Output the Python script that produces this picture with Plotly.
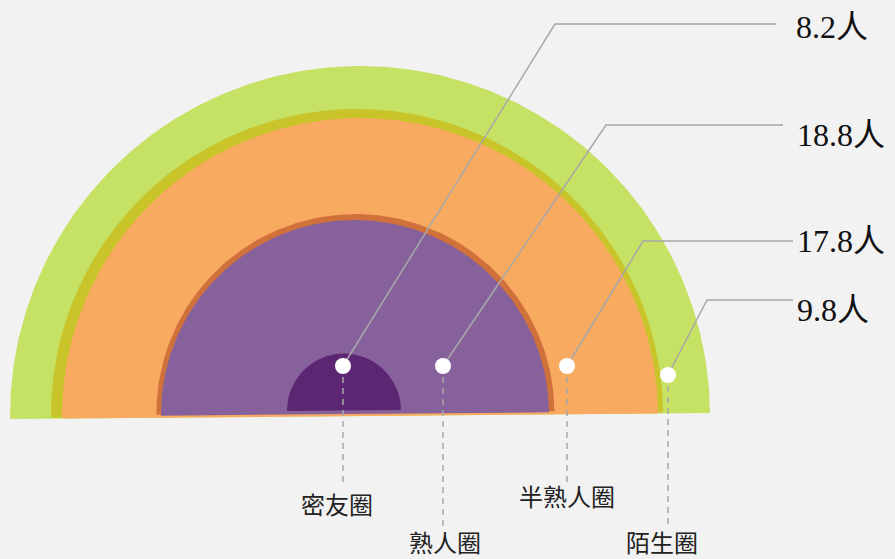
import numpy as np
import plotly.graph_objects as go

# ---- data ----
categories = ["密友圈", "熟人圈", "半熟人圈", "陌生圈"]
values = [8.2, 18.8, 17.8, 9.8]
value_unit = "人"

# ---- layout / style (pixel geometry of the drawing) ----
W, H = 895, 559
BG = "#F2F2F2"
TILT = 6.0 / 700.0  # slight rotation of the base line

# layers: (cx, cy, r, color) drawn back to front
layers = [
    (360, 416, 350, "#C5E264"),
    (357, 415, 306, "#C8C42A"),
    (360, 416, 298, "#F8AA61"),
    (355.5, 413, 199, "#D0713B"),
    (355, 414, 194, "#87619B"),
    (344, 410.5, 57, "#5C2673"),
]

dot_pos = [(343, 366), (443, 366), (567, 366), (668, 375)]
corner_pos = [(555, 24), (606, 125), (643, 241), (707, 300)]
line_end_x = [776, 783, 793, 793]
value_text_pos = [(794, 27), (795, 135), (795, 241), (795, 310)]
dash_end_y = [483, 527, 485, 527]
cat_text_pos = [(337, 503), (445, 541), (567, 495), (662, 541)]

fig = go.Figure()

# semicircle layers
for cx, cy, r, col in layers:
    th = np.linspace(TILT, np.pi + TILT, 240)
    xs = cx + r * np.cos(th)
    ys = cy - r * np.sin(th)
    fig.add_trace(go.Scatter(x=np.append(xs, xs[0]), y=np.append(ys, ys[0]),
                             mode="lines", fill="toself", fillcolor=col,
                             line=dict(width=0, color=col), hoverinfo="skip",
                             showlegend=False))

GRAY = "#A8A8A8"
for i, v in enumerate(values):
    dx, dy = dot_pos[i]
    kx, ky = corner_pos[i]
    # solid leader line
    fig.add_trace(go.Scatter(x=[dx, kx, line_end_x[i]], y=[dy, ky, ky], mode="lines",
                             line=dict(color=GRAY, width=1.5), hoverinfo="skip",
                             showlegend=False))
    # dashed drop line
    fig.add_trace(go.Scatter(x=[dx, dx], y=[dy, dash_end_y[i]], mode="lines",
                             line=dict(color=GRAY, width=1.5, dash="6px,5px"),
                             hoverinfo="skip", showlegend=False))
    tx, ty = value_text_pos[i]
    fig.add_annotation(x=tx, y=ty, text=f"{v}{value_unit}", showarrow=False,
                       xanchor="left", yanchor="middle",
                       font=dict(family="Liberation Serif, Noto Sans CJK SC", size=32,
                                 color="#111111"))
    cxp, cyp = cat_text_pos[i]
    fig.add_annotation(x=cxp, y=cyp, text=categories[i], showarrow=False,
                       xanchor="center", yanchor="middle",
                       font=dict(family="Noto Sans CJK SC", size=24, color="#222222"))

# white dots
fig.add_trace(go.Scatter(x=[p[0] for p in dot_pos], y=[p[1] for p in dot_pos],
                         mode="markers", marker=dict(size=16, color="white",
                                                      line=dict(width=0)),
                         hoverinfo="skip", showlegend=False))

fig.update_layout(
    width=W, height=H, margin=dict(l=0, r=0, t=0, b=0),
    paper_bgcolor=BG, plot_bgcolor=BG,
    xaxis=dict(range=[0, W], visible=False, fixedrange=True),
    yaxis=dict(range=[H, 0], visible=False, fixedrange=True),
    showlegend=False,
)

fig.write_html(
    "out.html",
    config={"displayModeBar": False},
    post_script="document.body.style.margin='0';document.body.style.padding='0';"
                "document.body.style.overflow='hidden';"
                "document.body.style.background='#F2F2F2';",
)
